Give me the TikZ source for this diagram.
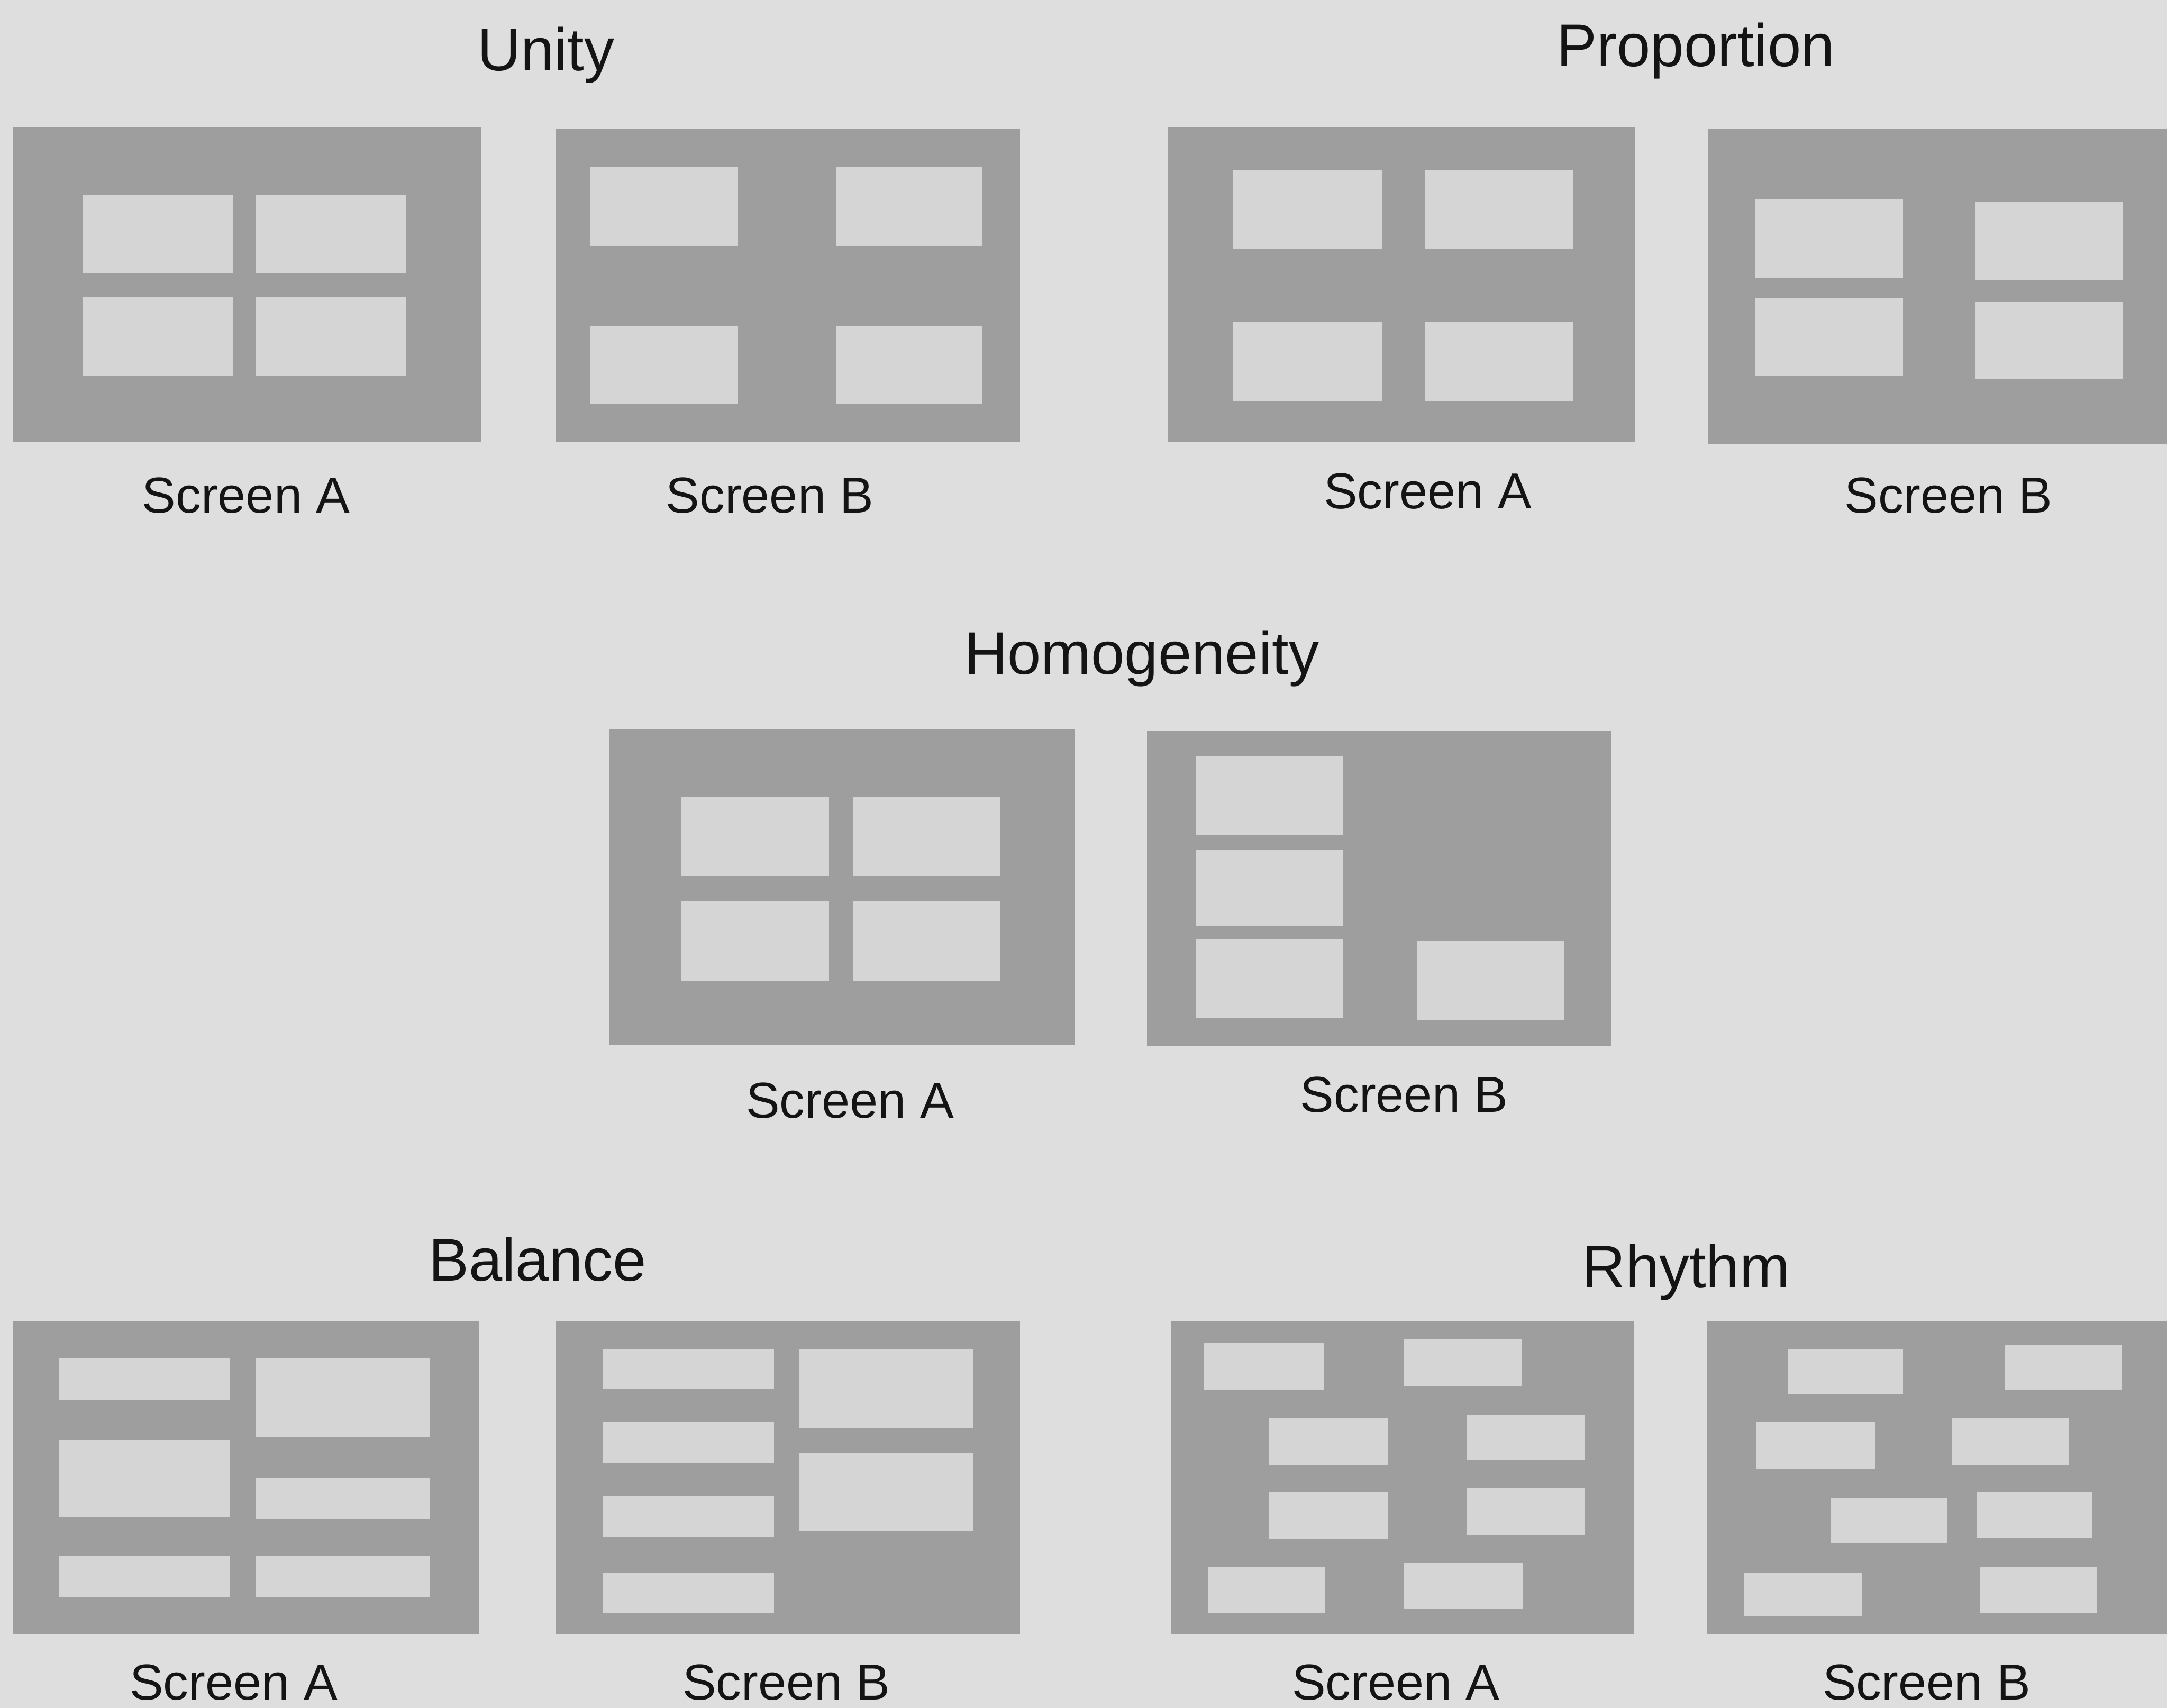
\documentclass[tikz,border=0pt]{standalone}
\usepackage{fontspec}
\setmainfont{Liberation Sans}
\usepackage{tikz}
\usetikzlibrary{positioning}

\definecolor{paper}{RGB}{222,222,222}
\definecolor{screengray}{RGB}{158,158,158}
\definecolor{panegray}{RGB}{213,213,213}
\definecolor{ink}{RGB}{20,20,20}

\begin{document}
\begin{tikzpicture}[
    x=0.1mm, y=-0.1mm,
    screen/.style={fill=screengray},
    pane/.style={fill=panegray},
    title/.style={anchor=base, text=ink, font=\fontsize{12.4}{14}\selectfont},
    caption/.style={anchor=base, text=ink, font=\fontsize{10.4}{12}\selectfont}
]
    \useasboundingbox (0,0) rectangle (1568,1236);
    \fill[paper] (0,0) rectangle (1568,1236);

    % Unity
    \node[title] (unity) at (395,51) {Unity};
    \fill[screen] (9,92) rectangle (348,320);
    \foreach \xa/\ya/\xb/\yb in {60/141/169/198, 185/141/294/198, 60/215/169/272, 185/215/294/272}
        \fill[pane] (\xa,\ya) rectangle (\xb,\yb);
    \node[caption] (unityA) at (178,371) {Screen A};
    \fill[screen] (402,93) rectangle (738,320);
    \foreach \xa/\ya/\xb/\yb in {427/121/534/178, 605/121/711/178, 427/236/534/292, 605/236/711/292}
        \fill[pane] (\xa,\ya) rectangle (\xb,\yb);
    \node[caption] (unityB) at (557,371) {Screen B};

    % Proportion
    \node[title] (proportion) at (1227,48) {Proportion};
    \fill[screen] (845,92) rectangle (1183,320);
    \foreach \xa/\ya/\xb/\yb in {892/123/1000/180, 1031/123/1138/180, 892/233/1000/290, 1031/233/1138/290}
        \fill[pane] (\xa,\ya) rectangle (\xb,\yb);
    \node[caption] (proportionA) at (1033,368) {Screen A};
    \fill[screen] (1236,93) rectangle (1568,321);
    \foreach \xa/\ya/\xb/\yb in {1270/144/1377/201, 1429/146/1536/203, 1270/216/1377/272, 1429/218/1536/274}
        \fill[pane] (\xa,\ya) rectangle (\xb,\yb);
    \node[caption] (proportionB) at (1410,371) {Screen B};

    % Homogeneity
    \node[title] (homogeneity) at (826,488) {Homogeneity};
    \fill[screen] (441,528) rectangle (778,756);
    \foreach \xa/\ya/\xb/\yb in {493/577/600/634, 617/577/724/634, 493/652/600/710, 617/652/724/710}
        \fill[pane] (\xa,\ya) rectangle (\xb,\yb);
    \node[caption] (homogeneityA) at (615,809) {Screen A};
    \fill[screen] (830,529) rectangle (1166,757);
    \foreach \xa/\ya/\xb/\yb in {865/547/972/604, 865/615/972/670, 865/680/972/737, 1025/681/1132/738}
        \fill[pane] (\xa,\ya) rectangle (\xb,\yb);
    \node[caption] (homogeneityB) at (1016,805) {Screen B};

    % Balance
    \node[title] (balance) at (389,927) {Balance};
    \fill[screen] (9,956) rectangle (347,1183);
    \foreach \xa/\ya/\xb/\yb in {43/983/166/1013, 185/983/311/1040, 43/1042/166/1098,
                                185/1070/311/1099, 43/1126/166/1156, 185/1126/311/1156}
        \fill[pane] (\xa,\ya) rectangle (\xb,\yb);
    \node[caption] (balanceA) at (169,1230) {Screen A};
    \fill[screen] (402,956) rectangle (738,1183);
    \foreach \xa/\ya/\xb/\yb in {436/976/560/1005, 436/1029/560/1059, 436/1083/560/1112,
                                436/1138/560/1167, 578/976/704/1033, 578/1051/704/1108}
        \fill[pane] (\xa,\ya) rectangle (\xb,\yb);
    \node[caption] (balanceB) at (569,1230) {Screen B};

    % Rhythm
    \node[title] (rhythm) at (1220,932) {Rhythm};
    \fill[screen] (847,956) rectangle (1182,1183);
    \foreach \xa/\ya/\xb/\yb in {871/972/958/1006, 1016/969/1101/1003, 918/1026/1004/1060,
                                1061/1024/1147/1057, 918/1080/1004/1114, 1061/1077/1147/1111,
                                874/1134/959/1167, 1016/1131/1102/1164}
        \fill[pane] (\xa,\ya) rectangle (\xb,\yb);
    \node[caption] (rhythmA) at (1010,1230) {Screen A};
    \fill[screen] (1235,956) rectangle (1568,1183);
    \foreach \xa/\ya/\xb/\yb in {1294/976/1377/1009, 1451/973/1535/1006, 1271/1029/1357/1063,
                                1412/1026/1497/1060, 1325/1084/1409/1117, 1430/1080/1514/1113,
                                1262/1138/1347/1170, 1433/1134/1517/1167}
        \fill[pane] (\xa,\ya) rectangle (\xb,\yb);
    \node[caption] (rhythmB) at (1394,1230) {Screen B};
\end{tikzpicture}
\end{document}
